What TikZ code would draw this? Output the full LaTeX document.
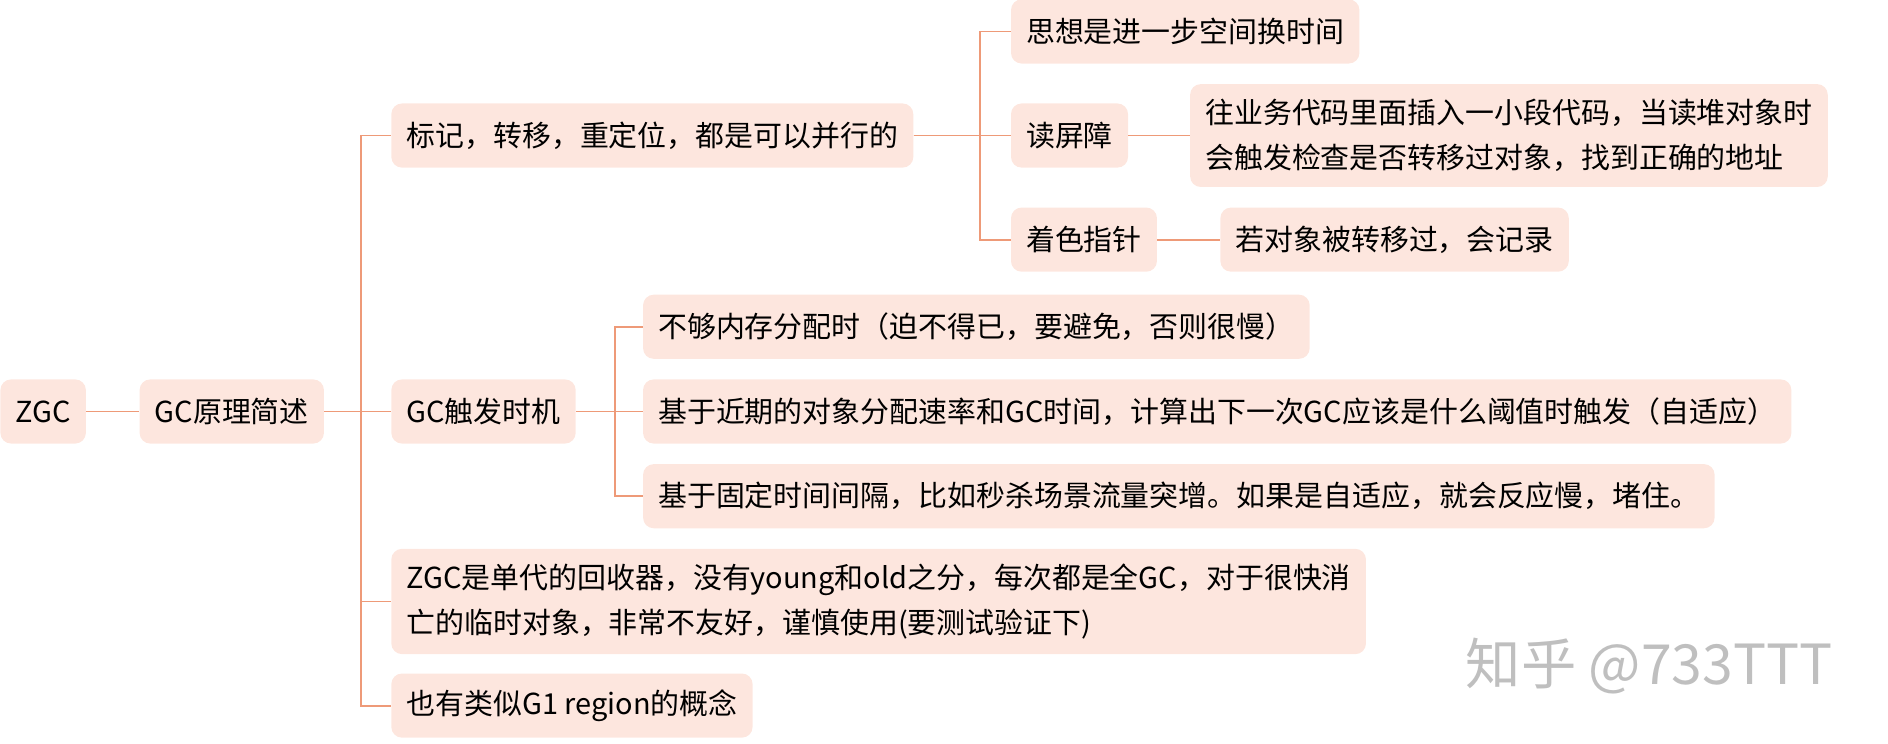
\documentclass[tikz,border=0pt]{standalone}
\usepackage{fontspec}
\setmainfont{Noto Sans CJK SC}
\usetikzlibrary{positioning}
\definecolor{boxfill}{HTML}{FDE6DE}
\definecolor{linkline}{HTML}{EE9A78}
\tikzset{
	topic/.style = {anchor = west, fill = boxfill, rounded corners = 5pt, minimum height = 1.06cm,
		inner xsep = 0.25cm, align = left, font = \fontsize{13.6}{21}\selectfont},
	link/.style = {draw = linkline, line width = 0.9pt}
}
\begin{document}
\begin{tikzpicture}
	\useasboundingbox (0,0) rectangle (31.2,-12.28);
	\coordinate (fork1) at (5.96,0);
	\coordinate (fork2) at (16.2,0);
	\coordinate (fork3) at (10.16,0);

	\node [topic] (zgc) at (0,-6.8) {ZGC};
	\node [topic] (prin) at (2.3,-6.8) {GC原理简述};

	\node [topic] (mark) at (6.46,-2.24) {标记，转移，重定位，都是可以并行的};
	\node [topic] (trig) at (6.46,-6.8) {GC触发时机};
	\node [topic, minimum height = 1.74cm] (single) at (6.46,-9.94) {ZGC是单代的回收器，没有young和old之分，每次都是全GC，对于很快消\\亡的临时对象，非常不友好，谨慎使用(要测试验证下)};
	\node [topic] (region) at (6.46,-11.66) {也有类似G1 region的概念};

	\node [topic] (idea) at (16.7,-0.52) {思想是进一步空间换时间};
	\node [topic] (rbar) at (16.7,-2.24) {读屏障};
	\node [topic] (color) at (16.7,-3.96) {着色指针};
	\node [topic, minimum height = 1.7cm] (rbarx) at (19.66,-2.24) {往业务代码里面插入一小段代码，当读堆对象时\\会触发检查是否转移过对象，找到正确的地址};
	\node [topic] (colorx) at (20.16,-3.96) {若对象被转移过，会记录};

	\node [topic] (mem) at (10.62,-5.4) {不够内存分配时（迫不得已，要避免，否则很慢）};
	\node [topic] (rate) at (10.62,-6.8) {基于近期的对象分配速率和GC时间，计算出下一次GC应该是什么阈值时触发（自适应）};
	\node [topic] (fix) at (10.62,-8.2) {基于固定时间间隔，比如秒杀场景流量突增。如果是自适应，就会反应慢，堵住。};

	\node [anchor = west, text = black!25, font = \fontsize{26}{30}\selectfont] (mark0) at (24.1,-11) {知乎 @733TTT};

	\draw [link] (zgc.east) -- (prin.west);
	\foreach \c in {mark, trig, single, region}
		\draw [link] (prin.east) -- (prin.east -| fork1) |- (\c.west);
	\foreach \c in {idea, rbar, color}
		\draw [link] (mark.east) -- (mark.east -| fork2) |- (\c.west);
	\draw [link] (rbar.east) -- (rbarx.west);
	\draw [link] (color.east) -- (colorx.west);
	\foreach \c in {mem, rate, fix}
		\draw [link] (trig.east) -- (trig.east -| fork3) |- (\c.west);
\end{tikzpicture}
\end{document}
